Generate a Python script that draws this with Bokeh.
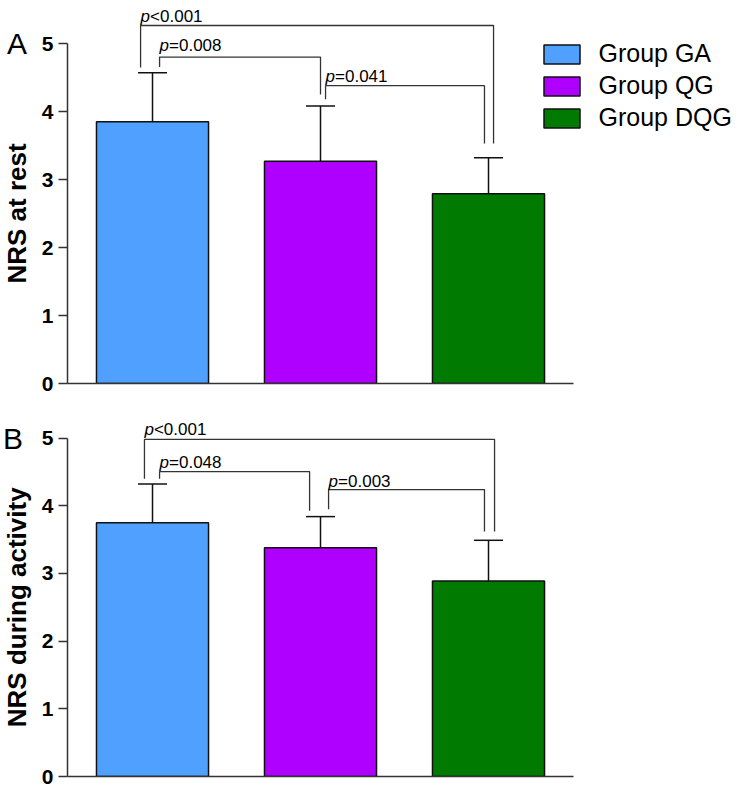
import math
from bokeh.plotting import figure
from bokeh.models import (ColumnDataSource, Whisker, TeeHead, Range1d, FixedTicker,
                          Legend, LegendItem)
from bokeh.layouts import column, row
from bokeh.embed import file_html
from bokeh.resources import INLINE
from bokeh.core.properties import value

# ---------------- data ----------------
groups = ["Group GA", "Group QG", "Group DQG"]
colors = ["#50A0FF", "#AF00FF", "#007A00"]
rest_mean = [3.85, 3.27, 2.79]
rest_sd = [0.72, 0.81, 0.53]
act_mean = [3.75, 3.38, 2.89]
act_sd = [0.57, 0.46, 0.60]
y_ticks = [0, 1, 2, 3, 4, 5]
rest_p = ["<0.001", "=0.008", "=0.041"]
act_p = ["<0.001", "=0.048", "=0.003"]

# bracket geometry (annotation positions)
rest_br = dict(xl=[-0.071, 0.042, 1.030], xr=[2.030, 1.0, 1.976],
               top=[5.265, 4.80, 4.38], lb=[4.647, 4.655, 4.18], rb=[3.53, 4.25, 3.53],
               dy=[-8.5, -11.5, -9])
act_br = dict(xl=[-0.048, 0.042, 1.048], xr=[2.036, 0.935, 1.976],
              top=[4.98, 4.505, 4.24], lb=[4.40, 4.40, 3.95], rb=[3.62, 3.925, 3.62],
              dy=[-9.7, -9, -8.4])

FONT = "Liberation Sans"
STRIP_W = 35
MAIN_W = 744 - STRIP_W
LB = 32
PX_PER_X = 168.0


def make_panel(means, sds, ytitle, letter, letter_x, br, plabels,
               height, frame_h, px_per_y, border_bottom, with_legend):
    ymax = frame_h / px_per_y
    yr = Range1d(0, ymax)
    frame_w = MAIN_W - LB
    xr_ = Range1d(-0.506, -0.506 + frame_w / PX_PER_X)

    # ---- left strip with panel letter and y title ----
    s = figure(width=STRIP_W, height=height, x_range=Range1d(0, STRIP_W), y_range=yr,
               x_axis_type=None, y_axis_type=None,
               output_backend="svg", toolbar_location=None,
               min_border_left=0, min_border_right=0, min_border_top=0,
               min_border_bottom=border_bottom)
    s.outline_line_color = None
    s.xgrid.visible = False
    s.ygrid.visible = False
    s.text(x=[16], y=[2.5], text=[ytitle], angle=math.pi / 2,
           text_align="center", text_baseline="middle",
           text_font=value(FONT), text_font_style="bold", text_font_size="26px",
           text_color="black")
    s.text(x=[letter_x], y=[5], text=[letter],
           text_align="center", text_baseline="middle",
           text_font=value(FONT), text_font_size="30px", text_color="black")

    # ---- main plot ----
    src = ColumnDataSource(dict(x=list(range(len(groups))), top=means, color=colors,
                                upper=[m + d for m, d in zip(means, sds)],
                                lower=[m - d for m, d in zip(means, sds)]))
    p = figure(width=MAIN_W, height=height, x_range=xr_, y_range=yr,
               output_backend="svg", toolbar_location=None,
               min_border_left=LB, min_border_right=0,
               min_border_top=0, min_border_bottom=border_bottom)
    p.outline_line_color = None
    p.xgrid.visible = False
    p.ygrid.visible = False

    r = p.vbar(x="x", top="top", width=0.667, bottom=0, source=src,
               fill_color="color", line_color="#111111", line_width=1.5)

    w = Whisker(base="x", upper="upper", lower="lower", source=src,
                line_color="#111111", line_width=1.5,
                upper_head=TeeHead(size=29, line_color="#111111", line_width=1.5),
                lower_head=TeeHead(size=29, line_color="#111111", line_width=1.5))
    p.add_layout(w)

    xa = p.xaxis[0]
    xa.ticker = FixedTicker(ticks=[])
    xa.bounds = (-0.506, 2.506)
    xa.major_tick_out = 0
    xa.major_tick_in = 0
    xa.minor_tick_out = 0
    xa.minor_tick_in = 0
    xa.major_label_text_font_size = "0px"
    xa.axis_line_color = "#333333"
    xa.axis_line_width = 1.5

    ya = p.yaxis[0]
    ya.ticker = FixedTicker(ticks=y_ticks)
    ya.bounds = (0, 5)
    ya.major_tick_out = 9
    ya.major_tick_in = 0
    ya.minor_tick_out = 0
    ya.minor_tick_in = 0
    ya.major_tick_line_color = "#333333"
    ya.major_tick_line_width = 1.5
    ya.axis_line_color = "#333333"
    ya.axis_line_width = 1.5
    ya.major_label_text_font = FONT
    ya.major_label_text_font_style = "bold"
    ya.major_label_text_font_size = "21px"
    ya.major_label_text_color = "black"
    ya.major_label_standoff = 5

    # significance brackets
    bxs, bys = [], []
    for xl, xr, t, lb, rb in zip(br["xl"], br["xr"], br["top"], br["lb"], br["rb"]):
        bxs.append([xl, xl, xr, xr])
        bys.append([lb, t, t, rb])
    p.multi_line(xs=bxs, ys=bys, line_color="#333333", line_width=1.3)

    tsrc = ColumnDataSource(dict(x=br["xl"], y=br["top"], dy=br["dy"],
                                 pp=["p"] * len(plabels), rest=plabels))
    p.text(x="x", y="y", text="pp", y_offset="dy", x_offset=0, source=tsrc,
           text_font=value(FONT), text_font_style="italic", text_font_size="17px",
           text_align="left", text_baseline="alphabetic", text_color="black")
    p.text(x="x", y="y", text="rest", y_offset="dy", x_offset=9.5, source=tsrc,
           text_font=value(FONT), text_font_size="17px",
           text_align="left", text_baseline="alphabetic", text_color="black")

    if with_legend:
        items = [LegendItem(label=g, renderers=[r], index=i) for i, g in enumerate(groups)]
        lg = Legend(items=items, location=(471.5, frame_h - 133), orientation="vertical",
                    glyph_width=45, glyph_height=24, label_height=31, spacing=1,
                    label_standoff=15, padding=0, margin=0,
                    border_line_color=None, background_fill_alpha=0,
                    label_text_font=FONT, label_text_font_size="25px",
                    label_text_color="black")
        p.add_layout(lg, "center")
    return row(s, p, spacing=0)


top_panel = make_panel(rest_mean, rest_sd, "NRS at rest", "A", 16.5, rest_br, rest_p,
                       400, 383, 68.0, 17, True)
bottom_panel = make_panel(act_mean, act_sd, "NRS during activity", "B", 12.5, act_br, act_p,
                          389, 376, 67.68, 13, False)

layout = column(top_panel, bottom_panel, spacing=0)
open("out.html", "w").write(file_html(layout, INLINE))
